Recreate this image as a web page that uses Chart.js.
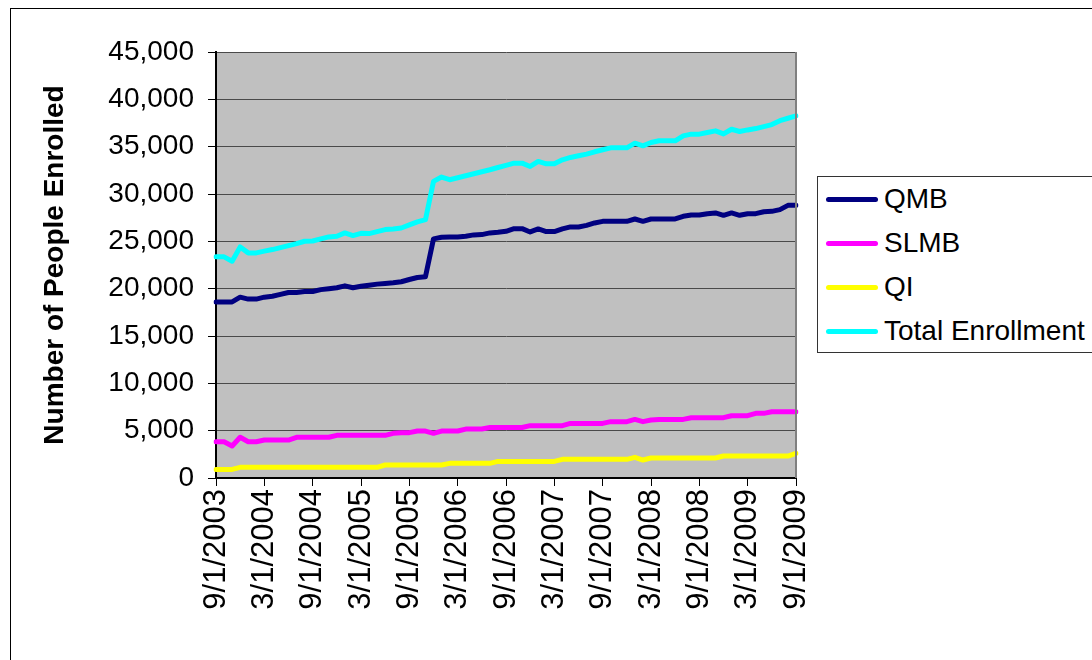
<!DOCTYPE html>
<html>
<head>
<meta charset="utf-8">
<title>Enrollment</title>
<script src="https://cdn.jsdelivr.net/npm/chart.js@4/dist/chart.umd.min.js"></script>
<style>
    body { margin: 0; background: #fff; }
    #wrap { position: relative; width: 1092px; height: 660px; overflow: hidden; }
    #frame { position: absolute; left: 10px; top: 8px; width: 1200px; height: 800px; border: 1px solid #000; }
    #chartBox { position: absolute; left: 0; top: 0; width: 1092px; height: 660px; }
    #legend { position: absolute; left: 817px; top: 176px; width: 300px; height: 175px;
              border: 1px solid #333; background: #fff; font-family: "Liberation Sans", Arial, sans-serif; }
    .item { display: flex; align-items: center; height: 44px; }
    .swatch { margin-left: 8px; width: 52px; height: 5px; border-radius: 3px; }
    .label { margin-left: 6px; font-size: 28px; color: #000; white-space: nowrap; }
</style>
</head>
<body>
<div id="wrap">
    <div id="frame"></div>
    <div id="chartBox"><canvas id="enrollChart"></canvas></div>
    <div id="legend"></div>
</div>
<script>
// Meses (primer dia de cada mes)
var meses = [
    "9/1/2003", "10/1/2003", "11/1/2003", "12/1/2003",
    "1/1/2004", "2/1/2004", "3/1/2004", "4/1/2004", "5/1/2004", "6/1/2004", "7/1/2004", "8/1/2004", "9/1/2004", "10/1/2004", "11/1/2004", "12/1/2004",
    "1/1/2005", "2/1/2005", "3/1/2005", "4/1/2005", "5/1/2005", "6/1/2005", "7/1/2005", "8/1/2005", "9/1/2005", "10/1/2005", "11/1/2005", "12/1/2005",
    "1/1/2006", "2/1/2006", "3/1/2006", "4/1/2006", "5/1/2006", "6/1/2006", "7/1/2006", "8/1/2006", "9/1/2006", "10/1/2006", "11/1/2006", "12/1/2006",
    "1/1/2007", "2/1/2007", "3/1/2007", "4/1/2007", "5/1/2007", "6/1/2007", "7/1/2007", "8/1/2007", "9/1/2007", "10/1/2007", "11/1/2007", "12/1/2007",
    "1/1/2008", "2/1/2008", "3/1/2008", "4/1/2008", "5/1/2008", "6/1/2008", "7/1/2008", "8/1/2008", "9/1/2008", "10/1/2008", "11/1/2008", "12/1/2008",
    "1/1/2009", "2/1/2009", "3/1/2009", "4/1/2009", "5/1/2009", "6/1/2009", "7/1/2009", "8/1/2009", "9/1/2009"
];

var qmb = [
    18600, 18600, 18600, 19100, 18900, 18900, 19100, 19200, 19400, 19600, 19600, 19700,
    19700, 19900, 20000, 20100, 20300, 20100, 20250, 20370, 20480, 20550, 20620, 20730,
    20970, 21180, 21250, 25260, 25430, 25470, 25470, 25540, 25680, 25710, 25890, 25960,
    26060, 26340, 26340, 25990, 26310, 26030, 26030, 26310, 26520, 26520, 26690, 26940,
    27110, 27110, 27110, 27110, 27360, 27110, 27360, 27360, 27360, 27360, 27640, 27780,
    27780, 27920, 28000, 27750, 28000, 27750, 27920, 27920, 28130, 28170, 28350, 28800,
    28800
];

var slmb = [
    3830, 3830, 3380, 4300, 3830, 3830, 4010, 4010, 4010, 4010, 4300, 4300,
    4300, 4300, 4300, 4510, 4510, 4510, 4510, 4510, 4510, 4510, 4720, 4790,
    4790, 4960, 4960, 4720, 4960, 4960, 4960, 5170, 5170, 5170, 5330, 5330,
    5330, 5330, 5330, 5530, 5530, 5530, 5530, 5530, 5770, 5770, 5770, 5770,
    5770, 5950, 5950, 5950, 6190, 5950, 6120, 6190, 6190, 6190, 6190, 6370,
    6370, 6370, 6370, 6370, 6580, 6580, 6580, 6830, 6830, 7000, 7000, 7000,
    7000
];

var qi = [
    910, 910, 910, 1130, 1130, 1130, 1130, 1130, 1130, 1130, 1130, 1130,
    1130, 1130, 1130, 1130, 1130, 1130, 1130, 1130, 1130, 1370, 1370, 1370,
    1370, 1370, 1370, 1370, 1370, 1550, 1550, 1550, 1550, 1550, 1550, 1750,
    1750, 1750, 1750, 1750, 1750, 1750, 1750, 1970, 1970, 1970, 1970, 1970,
    1970, 1970, 1970, 1970, 2180, 1900, 2110, 2110, 2110, 2110, 2110, 2110,
    2110, 2110, 2110, 2320, 2320, 2320, 2320, 2320, 2320, 2320, 2320, 2320,
    2600
];

var totalEnrollment = [
    23360, 23360, 22900, 24410, 23780, 23780, 23960, 24130, 24340, 24550, 24760, 25010,
    25040, 25260, 25470, 25530, 25890, 25610, 25850, 25820, 26030, 26240, 26310, 26410,
    26730, 27050, 27290, 31330, 31790, 31510, 31720, 31930, 32140, 32350, 32560, 32800,
    33020, 33260, 33260, 32910, 33440, 33190, 33190, 33610, 33860, 34040, 34210, 34460,
    34670, 34880, 34880, 34880, 35370, 35090, 35440, 35620, 35620, 35620, 36140, 36320,
    36320, 36490, 36670, 36350, 36840, 36600, 36770, 36910, 37120, 37330, 37750, 38000,
    38250
];

var fuente = "'Liberation Sans', Arial, sans-serif";

// Fondo gris del area de trazado y borde derecho
var plotBg = {
    id: "plotBg",
    beforeDraw: function (chart) {
        var a = chart.chartArea;
        var ctx = chart.ctx;
        ctx.save();
        ctx.fillStyle = "#c0c0c0";
        ctx.fillRect(a.left, a.top, a.right - a.left, a.bottom - a.top);
        ctx.restore();
    },
    afterDraw: function (chart) {
        var a = chart.chartArea;
        var ctx = chart.ctx;
        ctx.save();
        ctx.strokeStyle = "#808080";
        ctx.lineWidth = 2;
        ctx.beginPath();
        ctx.moveTo(a.right, a.top);
        ctx.lineTo(a.right, a.bottom);
        ctx.stroke();
        ctx.restore();
    }
};

function serie(label, data, color) {
    return {
        label: label,
        data: data,
        borderColor: color,
        backgroundColor: color,
        borderWidth: 5,
        pointRadius: 0,
        tension: 0,
        fill: false,
        borderJoinStyle: "round",
        borderCapStyle: "round"
    };
}

var ctx = document.getElementById("enrollChart").getContext("2d");
var enrollChart = new Chart(ctx, {
    type: "line",
    data: {
        labels: meses,
        datasets: [
            serie("QMB", qmb, "#000080"),
            serie("SLMB", slmb, "#ff00ff"),
            serie("QI", qi, "#ffff00"),
            serie("Total Enrollment", totalEnrollment, "#00ffff")
        ]
    },
    options: {
        responsive: true,
        maintainAspectRatio: false,
        animation: false,
        layout: { padding: { left: 38, top: 52, right: 296, bottom: 0 } },
        plugins: {
            legend: { display: false },
            tooltip: { enabled: false }
        },
        scales: {
            x: {
                offset: false,
                grid: {
                    offset: false,
                    drawOnChartArea: false,
                    tickLength: 8,
                    tickColor: function (c) {
                        return c.index % 6 === 0 ? "#000" : "rgba(0,0,0,0)";
                    }
                },
                border: { color: "#000", width: 2 },
                ticks: {
                    autoSkip: false,
                    minRotation: 90,
                    maxRotation: 90,
                    padding: 3,
                    color: "#000",
                    font: { family: fuente, size: 31 },
                    callback: function (value, index) {
                        return index % 6 === 0 ? this.getLabelForValue(value) : "";
                    }
                },
                afterFit: function (scale) {
                    scale.height = 182;
                }
            },
            y: {
                min: 0,
                max: 45000,
                grid: {
                    color: "#4a4a4a",
                    lineWidth: 1,
                    tickLength: 8,
                    tickColor: "#000"
                },
                border: { color: "#000", width: 2 },
                ticks: {
                    stepSize: 5000,
                    padding: 14,
                    color: "#000",
                    font: { family: fuente, size: 28 },
                    callback: function (value) {
                        return value.toLocaleString("en-US");
                    }
                },
                title: {
                    display: true,
                    text: "Number of People Enrolled",
                    color: "#000",
                    padding: 0,
                    font: { family: fuente, size: 28, weight: "bold" }
                },
                afterFit: function (scale) {
                    scale.width = 178;
                }
            }
        }
    },
    plugins: [plotBg]
});

// Leyenda en HTML a partir de los datasets
var legendHtml = "";
enrollChart.data.datasets.forEach(function (ds) {
    legendHtml += '<div class="item"><span class="swatch" style="background:' + ds.borderColor +
        '"></span><span class="label">' + ds.label + "</span></div>";
});
document.getElementById("legend").innerHTML = legendHtml;
</script>
</body>
</html>
